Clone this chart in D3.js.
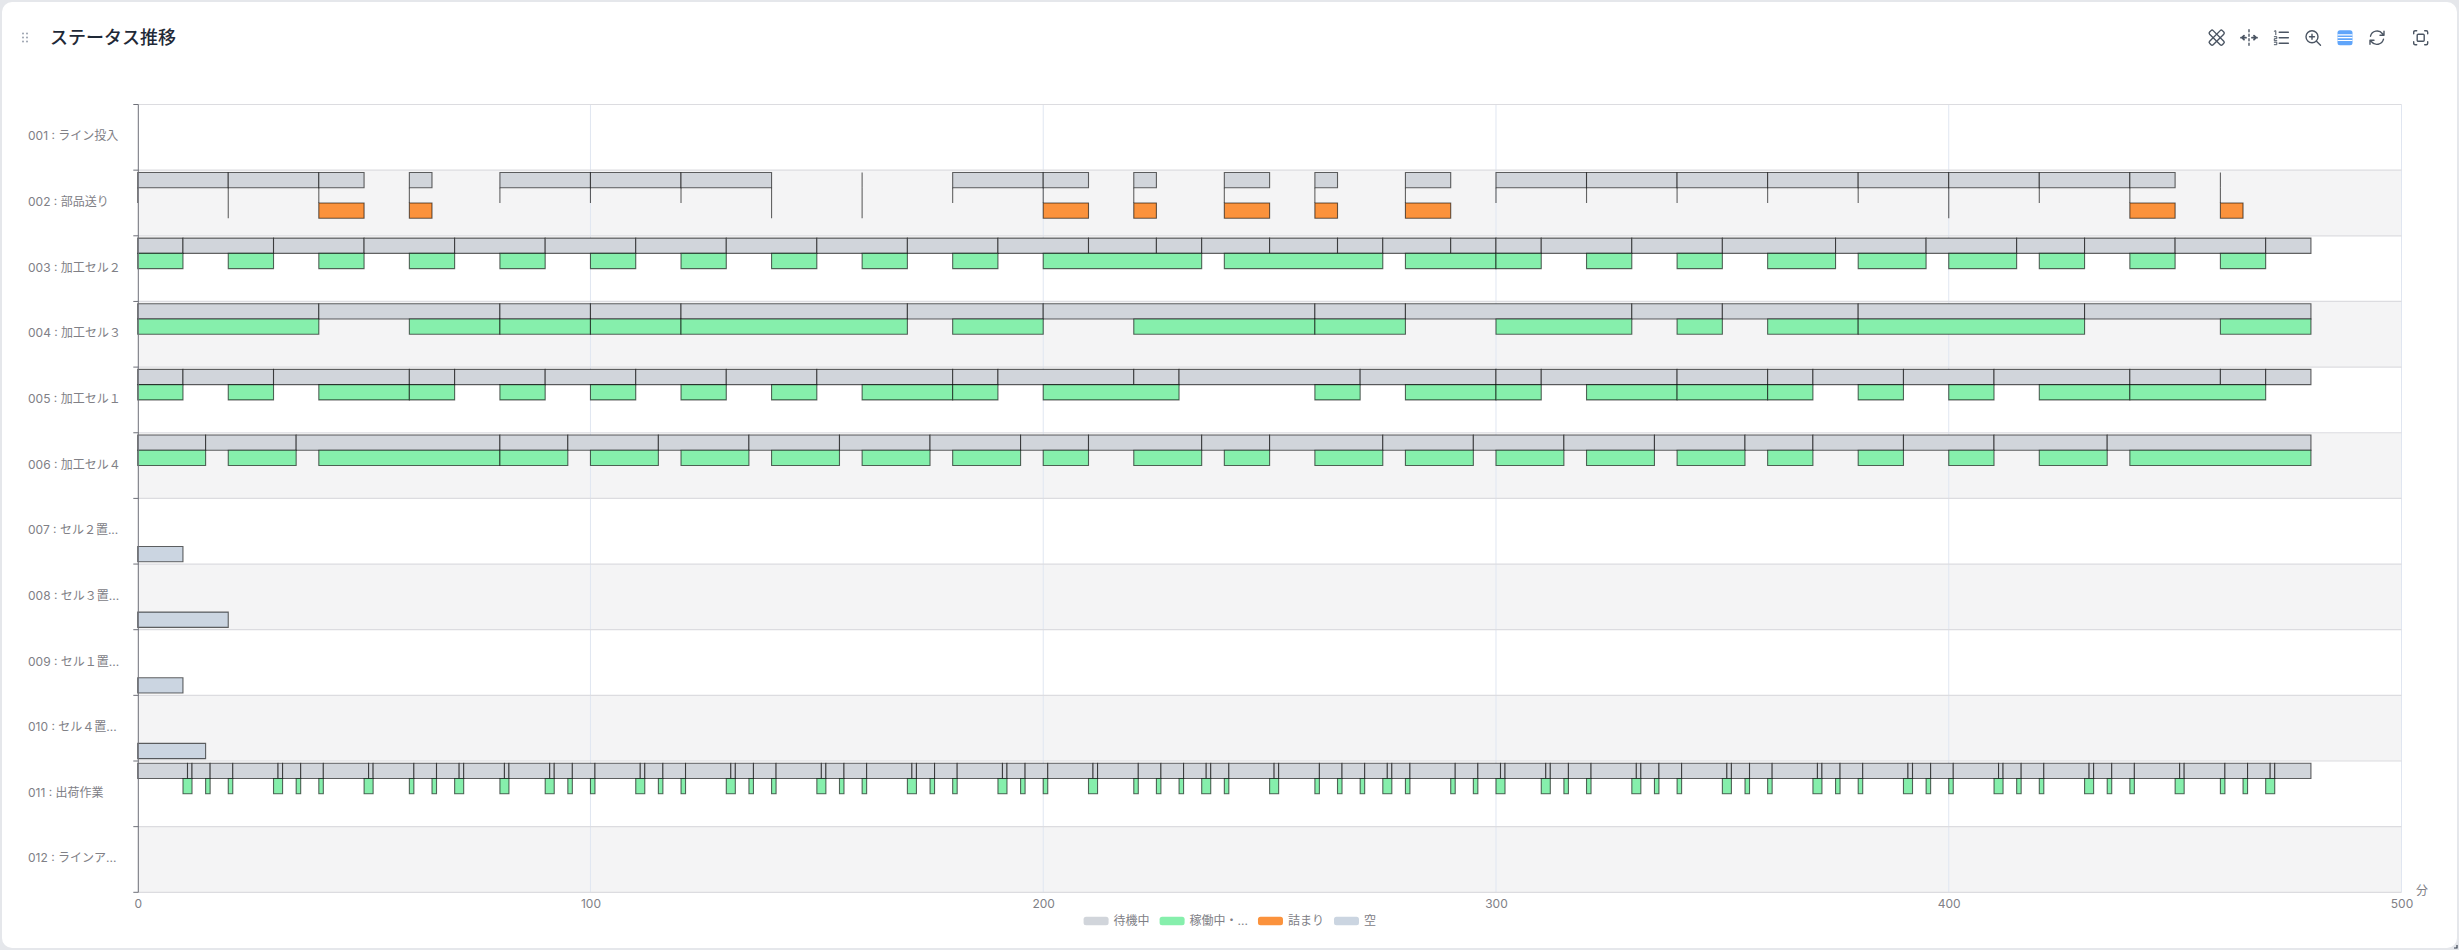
<!DOCTYPE html>
<html>
<head>
  <meta charset="utf-8">
  <title>ステータス推移</title>
  <script src="https://cdn.jsdelivr.net/npm/d3@7/dist/d3.min.js"></script>
  <style>
    html, body { margin: 0; padding: 0; background: #fff; }
    svg { display: block; }
    text { font-family: Inter, "Noto Sans CJK JP", sans-serif; }
    .label { font-size: 12px; fill: #808086; }
    .xaxis path { display: none; }
    .xaxis line { display: none; }
    .xaxis text { font-size: 12px; fill: #808086; }
    .bar { stroke: #000; stroke-opacity: 0.6; stroke-width: 1.1; }
    .icon { fill: none; stroke: #4b5563; stroke-width: 1.4; stroke-linecap: round; stroke-linejoin: round; }
  </style>
</head>
<body>
<svg id="chart" width="2459" height="950"></svg>
<script>
const categories = ['001 : ライン投入', '002 : 部品送り', '003 : 加工セル２', '004 : 加工セル３', '005 : 加工セル１', '006 : 加工セル４',
  '007 : セル２置...', '008 : セル３置...', '009 : セル１置...', '010 : セル４置...', '011 : 出荷作業', '012 : ラインア...'];
const statuses = ['待機中', '稼働中・...', '詰まり', '空'];
const statusColors = ['#d1d5db', '#86efac', '#fb923c', '#cbd5e1'];
const xTicks = [0, 100, 200, 300, 400, 500];

// 002 部品送り
const idle002 = [[0,20],[20,40],[40,50],[60,65],[80,100],[100,120],[120,140],[160,160],[180,200],[200,210],[220,225],[240,250],[260,265],[280,290],
  [300,320],[320,340],[340,360],[360,380],[380,400],[400,420],[420,440],[440,450],[460,460]];
const run002 = [[0,0],[20,20],[40,40],[60,60],[80,80],[100,100],[120,120],[140,140],[160,160],[180,180],[200,200],[220,220],[240,240],[260,260],[280,280],
  [300,300],[320,320],[340,340],[360,360],[380,380],[400,400],[420,420],[440,440],[460,460]];
const jam002 = [[20,20],[40,50],[60,65],[140,140],[160,160],[200,210],[220,225],[240,250],[260,265],[280,290],[400,400],[440,450],[460,465]];

// 003 加工セル２
const idle003 = [[0,10],[10,30],[30,50],[50,70],[70,90],[90,110],[110,130],[130,150],[150,170],[170,190],[190,210],[210,225],[225,235],[235,250],[250,265],
  [265,275],[275,290],[290,300],[300,310],[310,330],[330,350],[350,375],[375,395],[395,415],[415,430],[430,450],[450,470],[470,480]];
const run003 = [[0,10],[20,30],[40,50],[60,70],[80,90],[100,110],[120,130],[140,150],[160,170],[180,190],[200,235],[240,275],[280,300],[300,310],[320,330],
  [340,350],[360,375],[380,395],[400,415],[420,430],[440,450],[460,470]];

// 004 加工セル３
const idle004 = [[0,40],[40,80],[80,100],[100,120],[120,170],[170,200],[200,260],[260,280],[280,330],[330,350],[350,380],[380,430],[430,480]];
const run004 = [[0,40],[60,80],[80,100],[100,120],[120,170],[180,200],[220,260],[260,280],[300,330],[340,350],[360,380],[380,430],[460,480]];

// 005 加工セル１
const idle005 = [[0,10],[10,30],[30,60],[60,70],[70,90],[90,110],[110,130],[130,150],[150,180],[180,190],[190,220],[220,230],[230,270],[270,300],[300,310],
  [310,340],[340,360],[360,370],[370,390],[390,410],[410,440],[440,460],[460,470],[470,480]];
const run005 = [[0,10],[20,30],[40,60],[60,70],[80,90],[100,110],[120,130],[140,150],[160,180],[180,190],[200,230],[260,270],[280,300],[300,310],[320,340],
  [340,360],[360,370],[380,390],[400,410],[420,440],[440,470]];

// 006 加工セル４
const idle006 = [[0,15],[15,35],[35,80],[80,95],[95,115],[115,135],[135,155],[155,175],[175,195],[195,210],[210,235],[235,250],[250,275],[275,295],[295,315],
  [315,335],[335,355],[355,370],[370,390],[390,410],[410,435],[435,480]];
const run006 = [[0,15],[20,35],[40,80],[80,95],[100,115],[120,135],[140,155],[160,175],[180,195],[200,210],[220,235],[240,250],[260,275],[280,295],[300,315],
  [320,335],[340,355],[360,370],[380,390],[400,410],[420,435],[440,480]];

// 007-010 置場
const empty007 = [[0,10]];
const empty008 = [[0,20]];
const empty009 = [[0,10]];
const empty010 = [[0,15]];

// 011 出荷作業
const idle011 = [[0,11],[11,12],[12,16],[16,21],[21,31],[31,32],[32,36],[36,41],[41,51],[51,52],[52,61],[61,66],[66,71],[71,72],[72,81],[81,82],[82,91],[91,92],
  [92,96],[96,101],[101,111],[111,112],[112,116],[116,121],[121,131],[131,132],[132,136],[136,141],[141,151],[151,152],[152,156],[156,161],[161,171],[171,172],
  [172,176],[176,181],[181,191],[191,192],[192,196],[196,201],[201,211],[211,212],[212,221],[221,226],[226,231],[231,236],[236,237],[237,241],[241,251],[251,252],
  [252,261],[261,266],[266,271],[271,276],[276,277],[277,281],[281,291],[291,296],[296,301],[301,302],[302,311],[311,312],[312,316],[316,321],[321,331],[331,332],
  [332,336],[336,341],[341,351],[351,352],[352,356],[356,361],[361,371],[371,372],[372,376],[376,381],[381,391],[391,392],[392,396],[396,401],[401,411],[411,412],
  [412,416],[416,421],[421,431],[431,432],[432,436],[436,441],[441,451],[451,452],[452,461],[461,466],[466,471],[471,472],[472,480]];
const run011 = [[10,12],[15,16],[20,21],[30,32],[35,36],[40,41],[50,52],[60,61],[65,66],[70,72],[80,82],[90,92],[95,96],[100,101],[110,112],[115,116],[120,121],
  [130,132],[135,136],[140,141],[150,152],[155,156],[160,161],[170,172],[175,176],[180,181],[190,192],[195,196],[200,201],[210,212],[220,221],[225,226],[230,231],
  [235,237],[240,241],[250,252],[260,261],[265,266],[270,271],[275,277],[280,281],[290,291],[295,296],[300,302],[310,312],[315,316],[320,321],[330,332],[335,336],
  [340,341],[350,352],[355,356],[360,361],[370,372],[375,376],[380,381],[390,392],[395,396],[400,401],[410,412],[415,416],[420,421],[430,432],[435,436],[440,441],
  [450,452],[460,461],[465,466],[470,472]];

// row index, status index, segments
const seriesList = [
  [1, 0, idle002], [1, 1, run002], [1, 2, jam002],
  [2, 0, idle003], [2, 1, run003],
  [3, 0, idle004], [3, 1, run004],
  [4, 0, idle005], [4, 1, run005],
  [5, 0, idle006], [5, 1, run006],
  [6, 3, empty007], [7, 3, empty008], [8, 3, empty009], [9, 3, empty010],
  [10, 0, idle011], [10, 1, run011]
];

const svg = d3.select('#chart');

// カード
svg.append('rect').attr('width', 2459).attr('height', 950).attr('fill', '#e5e7eb');
svg.append('rect').attr('x', 2).attr('y', 2).attr('width', 2455).attr('height', 946).attr('rx', 10).attr('fill', '#fff');

// ドラッグハンドル
[0, 1, 2].forEach(i => {
  [23, 27].forEach(cx => {
    svg.append('circle').attr('cx', cx).attr('cy', 33.5 + i * 4).attr('r', 1).attr('fill', '#9ca3af');
  });
});
svg.append('text').attr('x', 50).attr('y', 44).attr('font-size', 18).attr('font-weight', 500).attr('fill', '#1f2937').text('ステータス推移');

const x = d3.scaleLinear().domain([0, 500]).range([137.7, 2401.5]);
const y = d3.scaleBand().domain(d3.range(categories.length)).range([104.5, 892.3]);
const lane = d3.scaleBand().domain(d3.range(statuses.length)).range([2.3, 63.3]);

// 行の背景
svg.append('g').selectAll('rect').data(categories).join('rect')
  .attr('x', x(0)).attr('y', (d, i) => y(i))
  .attr('width', x(500) - x(0)).attr('height', y.bandwidth())
  .attr('fill', (d, i) => i % 2 ? '#f4f4f5' : '#fff');

// グリッド
svg.append('g').selectAll('line').data(xTicks.slice(1)).join('line')
  .attr('x1', d => x(d)).attr('x2', d => x(d))
  .attr('y1', y(0)).attr('y2', y.range()[1])
  .attr('stroke', '#e0e6f1');
const rowEdges = d3.range(categories.length + 1).map(i => y.range()[0] + i * y.step());
svg.append('g').selectAll('line').data(rowEdges).join('line')
  .attr('x1', x(0)).attr('x2', x(500))
  .attr('y1', d => d).attr('y2', d => d)
  .attr('stroke', '#dcdce0').attr('stroke-width', 1.2);

// バー (幅0の区間も線として見えるようpathで描く)
const bars = svg.append('g');
seriesList.forEach(([row, status, segs]) => {
  bars.append('g').selectAll('path').data(segs).join('path')
    .attr('class', 'bar')
    .attr('d', d => `M${x(d[0])},${y(row) + lane(status)}H${x(d[1])}V${y(row) + lane(status) + lane.bandwidth()}H${x(d[0])}Z`)
    .attr('fill', statusColors[status]);
});

// y軸
svg.append('line').attr('x1', 138.3).attr('x2', 138.3)
  .attr('y1', y.range()[0]).attr('y2', y.range()[1]).attr('stroke', '#6e7079');
svg.append('g').selectAll('line').data(rowEdges).join('line')
  .attr('x1', 133.3).attr('x2', 138.3)
  .attr('y1', d => d).attr('y2', d => d)
  .attr('stroke', '#6e7079');
svg.append('g').selectAll('text').data(categories).join('text')
  .attr('class', 'label')
  .attr('x', 28)
  .attr('y', (d, i) => y(i) + y.bandwidth() / 2 - 1.5)
  .attr('dominant-baseline', 'central')
  .text(d => d);

// x軸
svg.append('g').attr('class', 'xaxis')
  .attr('transform', 'translate(0,896)')
  .call(d3.axisBottom(x).tickValues(xTicks).tickFormat(d3.format('d')).tickSize(0).tickPadding(3));
svg.append('text').attr('class', 'label').attr('x', 2416).attr('y', 895).text('分');

// 凡例
const legend = svg.append('g');
let legendX = 0;
statuses.forEach((s, i) => {
  legend.append('rect').attr('x', legendX).attr('y', 916.8)
    .attr('width', 25).attr('height', 8.4).attr('rx', 2.5).attr('fill', statusColors[i]);
  const t = legend.append('text').attr('class', 'label').attr('x', legendX + 30).attr('y', 920)
    .attr('dominant-baseline', 'central').text(s);
  legendX += 30 + t.node().getComputedTextLength() + 10;
});
legend.attr('transform', `translate(${1229.8 - (legendX - 10) / 2},0)`);

// ツールバー
const iconY = 37.7;
function icon(cx) {
  return svg.append('g').attr('class', 'icon').attr('transform', `translate(${cx - 8},${iconY - 8})`);
}
let g = icon(2216.7);
g.append('rect').attr('x', -1).attr('y', 5.5).attr('width', 18).attr('height', 5).attr('rx', 1.5).attr('transform', 'rotate(45 8 8)');
g.append('rect').attr('x', -1).attr('y', 5.5).attr('width', 18).attr('height', 5).attr('rx', 1.5).attr('transform', 'rotate(-45 8 8)');
g = icon(2249);
g.append('path').attr('d', 'M8 0V16').attr('stroke-dasharray', '2 2.5');
g.append('path').attr('d', 'M0 8H5M3 6L1 8L3 10M11 8H16M13 6L15 8L13 10').attr('stroke-width', 1.8);
g = icon(2281.3);
g.append('path').attr('d', 'M6 2.5H15M6 8H15M6 13.5H15').attr('stroke-width', 1.6);
g.append('path').attr('d', 'M1 1.5L2.5 1V5M1 7H3.5V9H1V11H3.5M1 12.5H3.5V15H1').attr('stroke-width', 1);
g = icon(2313);
g.append('circle').attr('cx', 7).attr('cy', 7).attr('r', 6);
g.append('path').attr('d', 'M4.5 7H9.5M7 4.5V9.5M11.5 11.5L15.5 15.5');
g = icon(2345);
g.append('rect').attr('x', 0.5).attr('y', 0.5).attr('width', 15).attr('height', 15).attr('rx', 2.5).attr('fill', '#60a5fa').attr('stroke', 'none');
g.append('path').attr('d', 'M1 5.2H15M1 8H15M1 10.8H15').attr('stroke', '#fff').attr('stroke-width', 1.2);
g = icon(2377);
g.append('path').attr('d', 'M1.5 6.5A6.8 6.8 0 0 1 13.5 4L15 5.5M15 1.5V5.5H11M14.5 9.5A6.8 6.8 0 0 1 2.5 12L1 10.5M1 14.5V10.5H5');
g = icon(2420.7);
g.append('rect').attr('x', 4.5).attr('y', 4.5).attr('width', 7).attr('height', 7).attr('rx', 1);
g.append('path').attr('d', 'M1 4V2.5Q1 1 2.5 1H4M12 1H13.5Q15 1 15 2.5V4M15 12V13.5Q15 15 13.5 15H12M4 15H2.5Q1 15 1 13.5V12');

// リサイズハンドル
svg.append('path').attr('d', 'M2454 948H2457V945').attr('fill', 'none').attr('stroke', '#374151').attr('stroke-width', 1.2);
</script>
</body>
</html>
